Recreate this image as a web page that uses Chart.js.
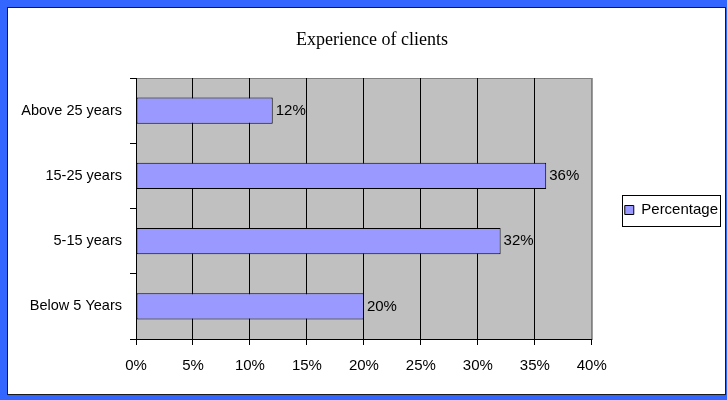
<!DOCTYPE html>
<html>
<head>
<meta charset="utf-8">
<title>Experience of clients</title>
<script src="https://cdn.jsdelivr.net/npm/chart.js@4.4.1/dist/chart.umd.min.js"></script>
<style>
  html, body { margin: 0; padding: 0; background: #fff; }
  canvas { display: block; }
</style>
</head>
<body>
<canvas id="experienceChart" width="727" height="400"></canvas>
<script>
// chart data
const categories = ['Above 25 years', '15-25 years', '5-15 years', 'Below 5 Years'];
const percentages = [12, 36, 32, 20];
const seriesName = 'Percentage';
const xMax = 40;
const xStep = 5;

const sans = "'Liberation Sans', Arial, sans-serif";
const serif = "'Liberation Serif', 'Times New Roman', serif";

// blue frame, white page and grey plot background
const framePlugin = {
    id: 'frame',
    beforeDraw(chart) {
        const ctx = chart.ctx;
        const a = chart.chartArea;
        ctx.save();
        ctx.fillStyle = '#3366ff';
        ctx.fillRect(0, 0, chart.width, chart.height);
        ctx.fillStyle = '#ffffff';
        ctx.fillRect(7, 7, 719, 388);
        ctx.strokeStyle = '#1a1a1a';
        ctx.lineWidth = 1;
        ctx.strokeRect(7.5, 7.5, 718, 387);

        ctx.fillStyle = '#c0c0c0';
        ctx.fillRect(a.left, a.top, a.width, a.height);
        ctx.strokeStyle = '#808080';
        ctx.strokeRect(a.left + 0.5, a.top + 0.5, a.width, a.height);
        ctx.restore();
    },
    afterLayout(chart) {
        // legend sits a little away from the plot, title centred over it
        const lg = chart.legend;
        const dx = chart.chartArea.right + 29 - lg.left;
        lg.left += dx;
        lg.right += dx;
        lg.top += 10;
        lg.bottom += 10;
        const t = chart.titleBlock;
        const tdx = 372 - (t.left + t.right) / 2;
        t.left += tdx;
        t.right += tdx;
    },
    afterDraw(chart) {
        // box around the legend
        const hb = chart.legend.legendHitBoxes[0];
        if (!hb) return;
        const ctx = chart.ctx;
        const cy = hb.top + hb.height / 2;
        ctx.save();
        ctx.strokeStyle = '#000';
        ctx.lineWidth = 1;
        ctx.strokeRect(Math.round(hb.left - 3) + 0.5, Math.round(cy - 15.5) + 0.5, Math.round(hb.width + 5), 31);
        ctx.restore();
    }
};

// value labels at the end of each bar
const valueLabels = {
    id: 'valueLabels',
    afterDatasetsDraw(chart) {
        const ctx = chart.ctx;
        const meta = chart.getDatasetMeta(0);
        ctx.save();
        ctx.font = '15px ' + sans;
        ctx.fillStyle = '#000';
        ctx.textAlign = 'left';
        ctx.textBaseline = 'middle';
        meta.data.forEach((bar, i) => {
            ctx.fillText(percentages[i] + '%', bar.x + 3, bar.y);
        });
        ctx.restore();
    }
};

const ctx = document.getElementById('experienceChart').getContext('2d');
const chart = new Chart(ctx, {
    type: 'bar',
    data: {
        labels: categories,
        datasets: [{
            label: seriesName,
            data: percentages,
            backgroundColor: '#9999ff',
            borderColor: '#000000',
            borderWidth: 1,
            borderSkipped: false,
            categoryPercentage: 0.8,
            barPercentage: 0.5
        }]
    },
    options: {
        indexAxis: 'y',
        responsive: false,
        animation: false,
        devicePixelRatio: 1,
        layout: { padding: { left: 8, right: 28, top: 0, bottom: 0 } },
        plugins: {
            title: {
                display: true,
                text: 'Experience of clients',
                color: '#000',
                font: { family: serif, size: 18, weight: 'normal' },
                padding: { top: 29.7, bottom: 26.7 }
            },
            legend: {
                display: true,
                position: 'right',
                labels: {
                    color: '#000',
                    font: { family: sans, size: 15 },
                    boxWidth: 9,
                    boxHeight: 9,
                    padding: 4
                }
            },
            tooltip: { enabled: false }
        },
        scales: {
            x: {
                min: 0,
                max: xMax,
                ticks: {
                    stepSize: xStep,
                    color: '#000',
                    font: { family: sans, size: 15 },
                    padding: 12,
                    callback: v => v + '%'
                },
                grid: {
                    color: c => (c.tick && c.tick.value === xMax) ? '#808080' : '#000000',
                    tickColor: '#000000',
                    tickLength: 6,
                    lineWidth: 1
                },
                border: { color: '#000000' },
                afterFit(scale) { scale.height = 61; }
            },
            y: {
                ticks: {
                    color: '#000',
                    font: { family: sans, size: 14.5 },
                    padding: 8
                },
                grid: {
                    offset: true,
                    drawOnChartArea: false,
                    color: '#000000',
                    tickLength: 6
                },
                border: { color: '#000000' },
                afterFit(scale) { scale.width = 128; }
            }
        }
    },
    plugins: [framePlugin, valueLabels]
});
</script>
</body>
</html>
